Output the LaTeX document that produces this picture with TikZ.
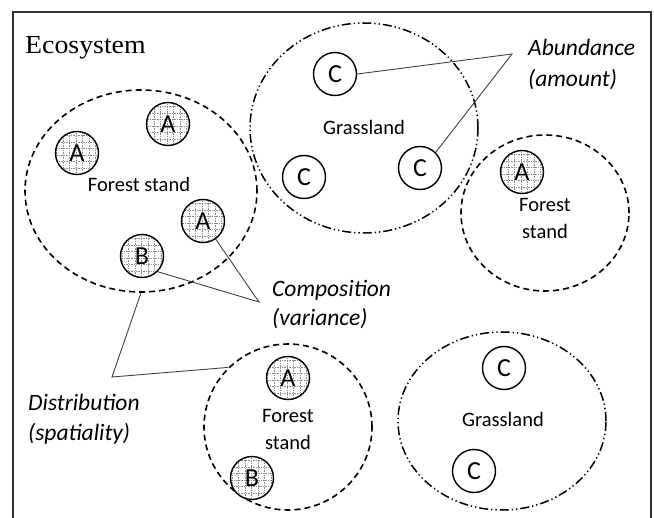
\documentclass[tikz,border=0pt]{standalone}
\usepackage{fontspec}
\setmainfont{Carlito}
\newfontfamily\ecoserif{Liberation Serif}
\usepackage{graphicx}
\usetikzlibrary{shapes.geometric}
\begin{document}
\begin{tikzpicture}[x=1pt,y=-1pt,
  frame/.style={draw=black!80, line width=1.8pt},
  forestreg/.style={ellipse, draw, line width=1.6pt, dash pattern=on 6pt off 4pt, inner sep=0pt},
  grassreg/.style={ellipse, draw, line width=1.5pt, dash pattern=on 9pt off 3pt on 1.3pt off 3pt on 1.3pt off 3pt, inner sep=0pt},
  sp/.style={circle, draw, fill=white, line width=1.4pt, minimum size=43pt, inner sep=0pt, font=\fontsize{26}{26}\selectfont},
  hatched/.style={sp, path picture={\draw[black!45, line width=0.5pt, dash pattern=on 0.8pt off 0.9pt, step=6.5pt] (path picture bounding box.south west) grid (path picture bounding box.north east);}},
  lbl/.style={font=\fontsize{20.5}{24}\selectfont, inner sep=0pt},
  ital/.style={font=\fontsize{23.5}{28}\selectfont\itshape, inner sep=0pt, anchor=base west},
  conn/.style={draw=black!75, line width=0.9pt}]
\useasboundingbox (0,0) rectangle (654,518);
\draw[frame] (13,530) -- (13,12) -- (651,12) -- (651,530);
% regions
\node[forestreg, minimum width=232pt, minimum height=202pt] (fs1) at (141,191) {};
\node[grassreg, minimum width=228pt, minimum height=210pt] (gl1) at (364,128) {};
\node[forestreg, minimum width=168pt, minimum height=156pt] (fs2) at (545,213) {};
\node[forestreg, minimum width=168pt, minimum height=166pt] (fs3) at (288,427) {};
\node[grassreg, minimum width=208pt, minimum height=178pt] (gl2) at (502,421) {};
% species
\node[hatched] (a1) at (77,153) {A};
\node[hatched] (a2) at (168,124) {A};
\node[hatched] (a3) at (203,221) {A};
\node[hatched] (b1) at (142,256) {B};
\node[sp] (c1) at (335,74) {C};
\node[sp] (c2) at (304,177) {C};
\node[sp] (c3) at (420,168) {C};
\node[hatched] (a4) at (522,172) {A};
\node[hatched] (a5) at (288,378) {A};
\node[hatched] (b2) at (252,478) {B};
\node[sp] (c4) at (504,368) {C};
\node[sp] (c5) at (474,471) {C};
% region labels
\node[lbl] (tg1) at (364,127) {Grassland};
\node[lbl] (tf1) at (139,184) {Forest stand};
\node[lbl] (tf2a) at (545,205) {Forest};
\node[lbl] (tf2b) at (545,231) {stand};
\node[lbl] (tf3a) at (288,416) {Forest};
\node[lbl] (tf3b) at (288,442) {stand};
\node[lbl] (tg2) at (503,419) {Grassland};
\node[anchor=base west, inner sep=0pt, font=\ecoserif\fontsize{26}{26}\selectfont] (eco) at (25,54) {\scalebox{1.07}[1]{Ecosystem}};
% italic labels
\node[ital] (abu) at (528,56) {Abundance};
\node[ital] (amt) at (528,87) {(amount)};
\node[ital] (comp) at (272,297) {Composition};
\node[ital] (var) at (272,326) {(variance)};
\node[ital] (dist) at (28,411) {Distribution};
\node[ital] (spat) at (28,441) {(spatiality)};
% connectors
\coordinate (abap) at (512,54);
\coordinate (coap) at (259,302);
\coordinate (diap) at (112,377);
\draw[conn] (c1.east) -- (abap) -- (c3.north east);
\draw[conn] (a3.-55) -- (coap) -- (b1.south east);
\draw[conn] (fs1.south) -- (diap) -- (fs3.135);
\end{tikzpicture}
\end{document}
